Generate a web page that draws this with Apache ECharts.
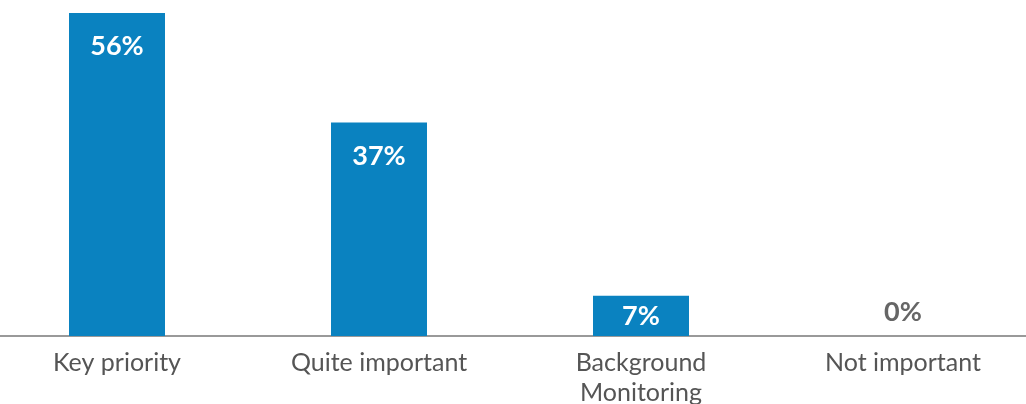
<!DOCTYPE html>
<html>
<head>
<meta charset="utf-8">
<script src="https://cdn.jsdelivr.net/npm/echarts@6/dist/echarts.min.js"></script>
<style>
  html, body { margin: 0; padding: 0; background: #fff; }
  #chart { width: 1026px; height: 404px; }
</style>
</head>
<body>
<div id="chart"></div>
<script>
const categories = ['Key priority', 'Quite important', 'Background\nMonitoring', 'Not important'];
const shares = [56, 37, 7, 0];

const barColor = '#0a82c0';
const fontFamily = 'Lato, "Noto Sans", sans-serif';

// label sits inside tall bars, centred in short ones, above empty ones
const labelFor = (v) => {
  if (v === 0) return { position: 'top', color: '#666', distance: 10 };
  if (v < 10) return { position: 'inside', color: '#fff' };
  return { position: 'insideTop', color: '#fff', distance: 20 };
};

const myChart = echarts.init(document.getElementById('chart'));
const option = {
  animation: false,
  grid: { left: -14, right: -8, top: 13, bottom: 68, outerBoundsMode: 'none', containLabel: false },
  xAxis: {
    type: 'category',
    data: categories,
    axisLine: { lineStyle: { color: '#999', width: 2 } },
    axisTick: { show: false },
    axisLabel: {
      color: '#555',
      fontSize: 25,
      fontFamily: fontFamily,
      margin: 12,
      lineHeight: 30,
      interval: 0,
    },
  },
  yAxis: {
    type: 'value',
    min: 0,
    max: 56,
    show: false,
  },
  series: [
    {
      type: 'bar',
      barWidth: 96,
      itemStyle: { color: barColor },
      data: shares.map((v) => ({ value: v, label: labelFor(v) })),
      label: {
        show: true,
        formatter: '{c}%',
        fontSize: 27,
        fontWeight: 'bold',
        fontFamily: fontFamily,
      },
    },
  ],
};
myChart.setOption(option);
</script>
</body>
</html>
